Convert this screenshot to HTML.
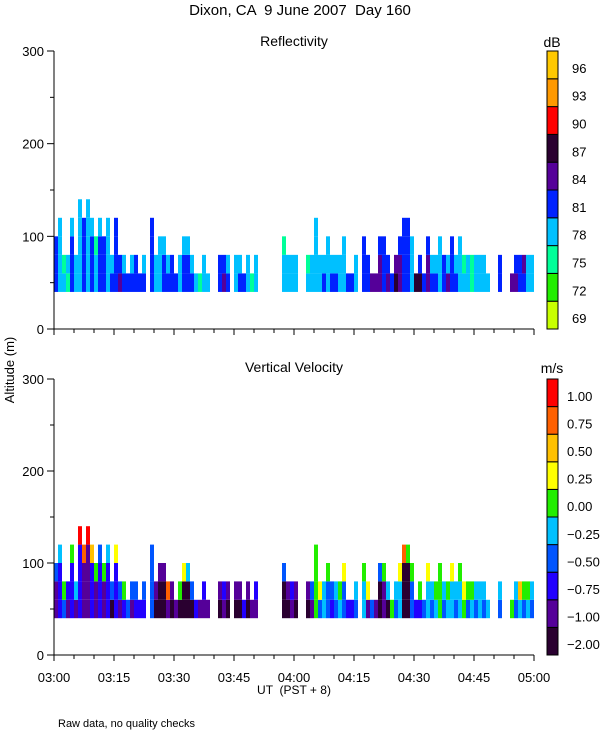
<!DOCTYPE html>
<html><head><meta charset="utf-8">
<style>
body{margin:0;background:#fff;}
svg{display:block;font-family:"Liberation Sans","DejaVu Sans",sans-serif;}
text{white-space:pre;}
</style></head>
<body>
<svg id="chart" width="600" height="750" viewBox="0 0 600 750">
<text x="300" y="15" text-anchor="middle" font-size="15">Dixon, CA  9 June 2007  Day 160</text>
<text x="294" y="46" text-anchor="middle" font-size="14">Reflectivity</text>
<text x="294" y="372" text-anchor="middle" font-size="14">Vertical Velocity</text>
<text x="0" y="0" transform="translate(14,370) rotate(-90)" text-anchor="middle" font-size="13">Altitude (m)</text>
<text x="294" y="694" text-anchor="middle" font-size="12">UT  (PST + 8)</text>
<text x="58" y="727" font-size="11">Raw data, no quality checks</text>
<text x="552" y="47" text-anchor="middle" font-size="14">dB</text>
<text x="552" y="373" text-anchor="middle" font-size="14">m/s</text>
<g id="layer"></g>
</svg>
<script>
// ---- data (one value per minute from 03:00 UT, 120 minutes) ----
const echoTops = [100,120,80,80,120,80,140,120,140,120,100,120,100,120,80,120,80,80,60,80,
80,60,80,0,120,80,100,100,80,80,60,80,100,100,80,60,60,80,60,0,
0,80,80,80,0,80,80,60,80,60,80,0,0,0,0,0,0,100,80,80,
80,0,0,80,80,120,80,80,100,80,80,80,100,60,60,80,0,100,80,60,
60,100,100,80,60,80,100,120,120,100,60,80,60,100,80,80,100,80,80,100,
80,100,80,80,80,80,80,80,60,0,0,80,0,0,60,80,80,80,80,80];
const reflClass = [4,3,3,2,4,3,3,4,3,4,3,4,4,3,4,4,5,4,4,4,
4,4,4,4,4,3,3,4,4,4,4,3,4,4,4,3,3,3,4,3,
3,4,5,4,3,3,4,4,3,3,3,3,3,3,3,3,3,3,3,3,
3,3,3,3,3,3,3,4,3,4,4,3,3,4,4,3,3,4,4,4,
5,5,4,5,4,6,5,4,4,3,5,6,4,5,4,4,3,4,5,4,
4,3,3,3,2,3,3,3,3,3,3,4,3,3,5,5,4,4,3,3];
const reflTop = [4,3,2,3,3,3,3,4,3,3,2,3,4,3,3,4,4,3,4,3,
4,4,3,4,4,3,3,3,3,4,4,3,3,3,3,3,2,3,3,3,
3,4,4,3,3,3,3,4,3,2,3,3,3,3,3,3,3,2,3,3,
3,3,3,2,3,3,3,3,3,3,3,3,3,4,4,3,3,4,4,5,
5,4,4,4,4,5,4,4,4,3,6,4,4,4,3,3,3,4,3,4,
3,3,2,3,2,3,3,3,3,3,3,4,3,3,5,4,4,5,3,3];
const velClass = [1,2,3,1,2,1,2,1,1,2,1,2,1,2,0,2,1,2,1,1,
2,1,2,1,3,0,0,0,1,0,0,0,0,0,0,1,0,1,0,0,
0,0,1,0,0,0,0,1,0,0,1,0,0,0,0,0,0,0,0,1,
0,0,0,0,1,5,3,4,3,2,3,4,3,1,1,3,0,4,1,0,
0,0,1,0,5,3,4,0,0,3,1,2,0,4,3,4,5,3,4,4,
3,4,5,3,4,3,4,3,3,3,3,3,3,3,4,3,4,3,4,3];
const velTop = [3,4,5,2,5,4,9,8,9,7,5,3,5,4,3,6,3,5,3,3,
3,2,3,1,3,1,1,1,8,1,1,5,6,4,3,2,1,2,1,1,
1,1,2,1,1,1,1,2,1,1,2,1,1,1,1,1,1,3,1,2,
1,1,1,1,3,5,6,4,5,3,4,5,6,2,2,4,1,5,6,3,
1,3,5,4,5,4,6,8,5,5,2,5,3,6,4,5,5,4,5,6,
4,5,6,5,5,4,4,4,4,4,4,4,4,4,5,4,7,5,5,4];
const reflLabels = ["69","72","75","78","81","84","87","90","93","96"];
const velLabels = ["-2.00","-1.00","-0.75","-0.50","-0.25","0.00","0.25","0.50","0.75","1.00"];
const timeLabels = ["03:00","03:15","03:30","03:45","04:00","04:15","04:30","04:45","05:00"];
const altTicks = [0,100,200,300];

const reflColors = ["#c8ff00","#22ee00","#00ff99","#00c0ff","#0022ff","#550099","#2a0030","#ff0000","#ff9900","#ffc800"];
const velColors = ["#2a0030","#550099","#2200ff","#0055ff","#00c0ff","#22ee00","#ffff00","#ffc000","#ff6000","#ff0000"];

const NS="http://www.w3.org/2000/svg";
const layer=document.getElementById('layer');
function mk(tag,attrs,parent){const e=document.createElementNS(NS,tag);for(const k in attrs)e.setAttribute(k,attrs[k]);(parent||layer).appendChild(e);return e;}
const X0=54,X1=534;
function xScale(min){return X0+(min/120)*(X1-X0);}
const panels=[{top:51,bot:329,name:'reflectivity'},{top:379,bot:655,name:'velocity'}];
function yScale(p,h){return p.bot-(h/300)*(p.bot-p.top);}

panels.forEach((p,pi)=>{
  const g=mk('g',{});
  
  
  for(let i=0;i<echoTops.length;i++){
    const top=echoTops[i];
    for(let h=40;h<top;h+=20){
      const isTop=(h+20>=top);
      let col;
      if(pi===0) col=reflColors[isTop?reflTop[i]:reflClass[i]];
      else col=velColors[isTop?velTop[i]:velClass[i]];
      const r=mk('rect',{x:xScale(i),y:yScale(p,h+20),width:xScale(i+1)-xScale(i),height:yScale(p,h)-yScale(p,h+20),fill:col},g);
      
      
    }
  }
  const ya=mk('line',{x1:X0,y1:p.top,x2:X0,y2:p.bot,stroke:'#000','stroke-width':1},g);
  
  
  const xa=mk('line',{x1:X0,y1:p.bot,x2:X1,y2:p.bot,stroke:'#000','stroke-width':1},g);
  
  
  for(let v=0;v<=300;v+=50){
    const y=yScale(p,v);
    mk('line',{x1:X0-(v%100===0?7:4),y1:y,x2:X0,y2:y,stroke:'#000'},g);
  }
  altTicks.forEach(v=>{
    const t=mk('text',{x:X0-10,y:yScale(p,v)+5,'text-anchor':'end','font-size':13},g);
    t.textContent=v;
    
    
  });
  for(let m=0;m<=120;m+=5){
    const x=xScale(m);
    mk('line',{x1:x,y1:p.bot,x2:x,y2:p.bot+(m%15===0?6:4),stroke:'#000'},g);
  }
  if(pi===1){
    timeLabels.forEach((lab,k)=>{
      const t=mk('text',{x:xScale(k*15),y:p.bot+27,'text-anchor':'middle','font-size':13},g);
      t.textContent=lab;
      
      
    });
  }
  const cols=pi===0?reflColors:velColors, labs=pi===0?reflLabels:velLabels;
  const cb=mk('g',{},g);
  
  
  const n=cols.length, ch=(p.bot-p.top)/n;
  for(let k=0;k<n;k++){
    const y=p.bot-(k+1)*ch;
    mk('rect',{x:547,y:y,width:11,height:ch,fill:cols[k],stroke:'#000','stroke-width':1},cb);
    const t=mk('text',{x:pi===0?572:567,y:y+ch/2+8,'font-size':13},cb);
    t.textContent=labs[k].replace('-','\u2212');
    
    
  }
});
</script>
</body></html>
